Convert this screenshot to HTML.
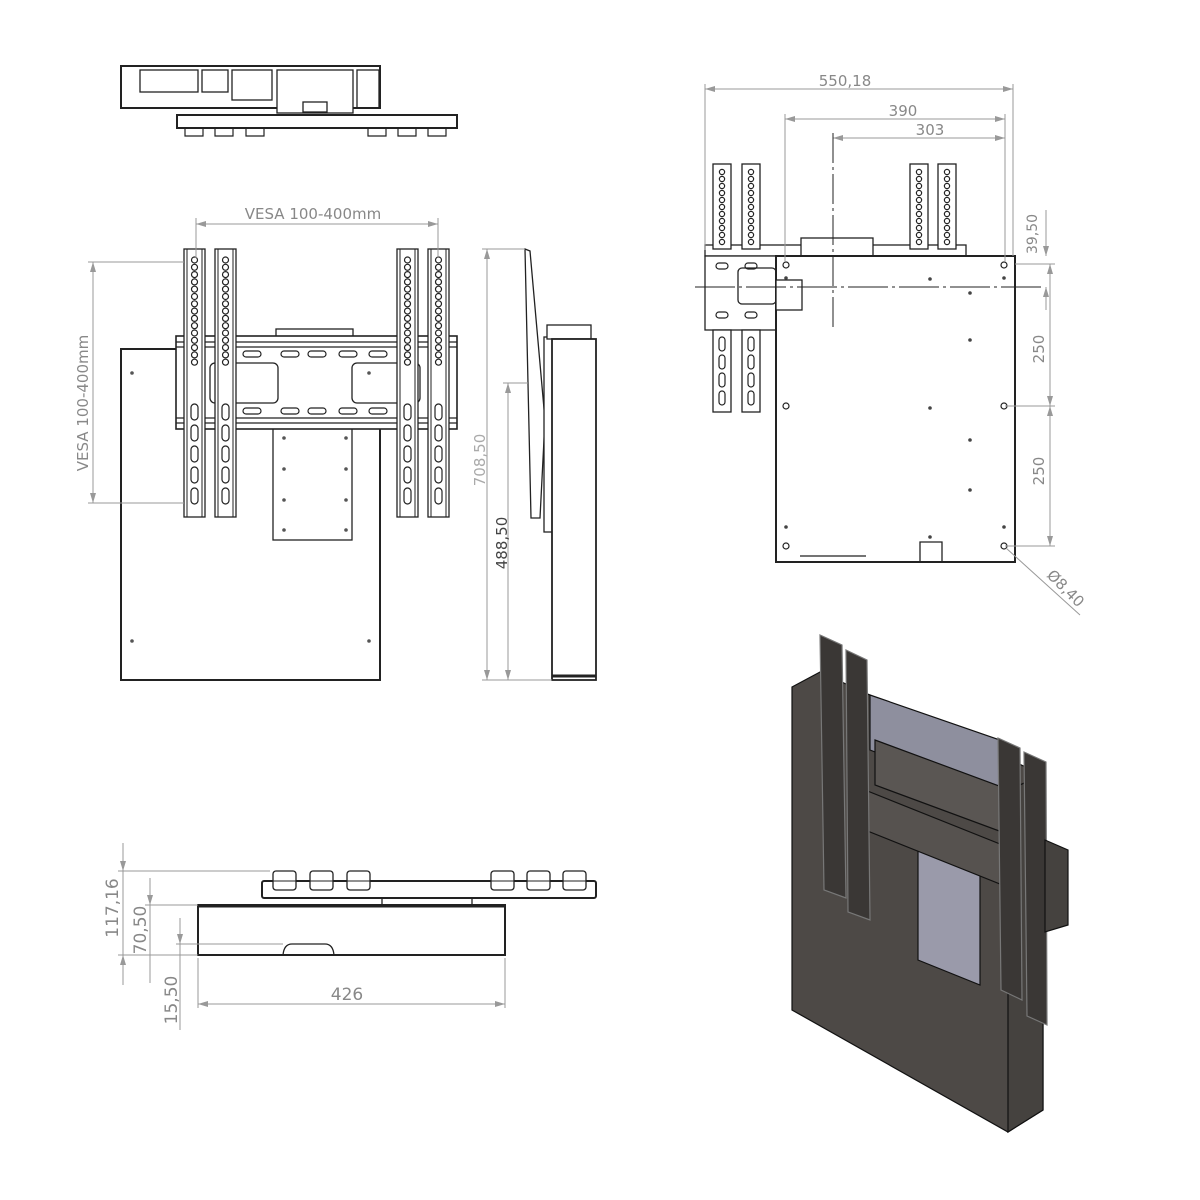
<!DOCTYPE html>
<html><head><meta charset="utf-8"><style>
html,body{margin:0;padding:0;background:#fff;}
svg{display:block;}
text{font-family:"DejaVu Sans","Liberation Sans",sans-serif;}
</style></head><body>
<svg id="s" width="1200" height="1200" viewBox="0 0 1200 1200" xmlns="http://www.w3.org/2000/svg">
<defs>
<marker id="a" viewBox="0 0 10 6" refX="10" refY="3" markerWidth="10" markerHeight="6" orient="auto-start-reverse"><path d="M0,0L10,3L0,6z" fill="#999"/></marker>
</defs>
<g fill="none" stroke="#222" stroke-width="1.3">
<rect x="121" y="66" width="259" height="42" stroke-width="2"/>
<rect x="140" y="70" width="58" height="22"/>
<rect x="202" y="70" width="26" height="22"/>
<rect x="232" y="70" width="40" height="30"/>
<rect x="277" y="70" width="76" height="43" fill="#fff"/>
<rect x="303" y="102" width="24" height="10"/>
<rect x="357" y="70" width="22" height="38"/>
<rect x="177" y="115" width="280" height="13" stroke-width="2"/>
<rect x="121" y="349" width="259" height="331" stroke-width="2"/>
<rect x="273" y="428" width="79" height="112" fill="#fff"/>
<rect x="276" y="329" width="77" height="8" fill="#fff"/>
<rect x="176" y="336" width="281" height="93" fill="#fff" stroke-width="1.6"/>
<line x1="176" y1="342" x2="457" y2="342"/><line x1="176" y1="347" x2="457" y2="347"/>
<line x1="176" y1="418" x2="457" y2="418"/><line x1="176" y1="423" x2="457" y2="423"/>
<rect x="210" y="363" width="68" height="40" rx="5"/>
<rect x="352" y="363" width="68" height="40" rx="5"/>
<path d="M525,249 L530,251 L545,420 L540,518 L531,518 Z" fill="#fff"/>
<rect x="544" y="337" width="10" height="195" fill="#fff"/>
<rect x="547" y="325" width="44" height="14" fill="#fff"/>
<rect x="552" y="339" width="44" height="341" fill="#fff" stroke-width="1.8"/>
<line x1="552" y1="676" x2="596" y2="676" stroke-width="3"/>
<rect x="705" y="245" width="261" height="11" fill="#fff"/>
<rect x="801" y="238" width="72" height="18" fill="#fff"/>
<rect x="705" y="256" width="72" height="74" fill="#fff"/>
<rect x="738" y="268" width="38" height="36" rx="4"/>
<rect x="776" y="256" width="239" height="306" fill="#fff" stroke-width="2"/>
<rect x="776" y="280" width="26" height="30" fill="#fff"/>
<path d="M920,562 V542 H942 V562"/>
<line x1="800" y1="556" x2="866" y2="556"/>
<rect x="262" y="881" width="334" height="17" rx="2" stroke-width="2"/>
<rect x="198" y="905" width="307" height="50" stroke-width="2"/>
<line x1="198" y1="906" x2="505" y2="906" stroke-width="3"/>
<path d="M283,955 Q284,944 292,944 H325 Q333,944 334,955"/>
<rect x="382" y="898" width="90" height="7"/>
</g>
<g id="dyn"></g>
<g stroke="#999" stroke-width="1" fill="none">
<line x1="196" y1="224" x2="438" y2="224" marker-start="url(#a)" marker-end="url(#a)"/>
<line x1="196" y1="218" x2="196" y2="258"/><line x1="438" y1="218" x2="438" y2="258"/>
<line x1="93" y1="262" x2="93" y2="503" marker-start="url(#a)" marker-end="url(#a)"/>
<line x1="88" y1="262" x2="184" y2="262"/><line x1="88" y1="503" x2="184" y2="503"/>
<line x1="487" y1="249" x2="487" y2="680" marker-start="url(#a)" marker-end="url(#a)"/>
<line x1="482" y1="249" x2="525" y2="249"/><line x1="482" y1="680" x2="552" y2="680"/>
<line x1="508" y1="383" x2="508" y2="680" marker-start="url(#a)" marker-end="url(#a)"/>
<line x1="503" y1="383" x2="528" y2="383"/>
<line x1="705" y1="89" x2="1013" y2="89" marker-start="url(#a)" marker-end="url(#a)"/>
<line x1="705" y1="84" x2="705" y2="250"/><line x1="1013" y1="84" x2="1013" y2="256"/>
<line x1="785" y1="119" x2="1005" y2="119" marker-start="url(#a)" marker-end="url(#a)"/>
<line x1="785" y1="114" x2="785" y2="262"/><line x1="1005" y1="114" x2="1005" y2="262"/>
<line x1="833" y1="138" x2="1005" y2="138" marker-start="url(#a)" marker-end="url(#a)"/>
<line x1="833" y1="133" x2="833" y2="330" stroke="#222" stroke-dasharray="30,4,3,4"/>
<line x1="695" y1="287" x2="1042" y2="287" stroke="#222" stroke-dasharray="40,4,3,4"/>
<line x1="1046" y1="210" x2="1046" y2="256"/>
<line x1="1046" y1="287" x2="1046" y2="310" marker-start="url(#a)"/>
<line x1="1046" y1="256" x2="1046" y2="240" marker-start="url(#a)"/>
<line x1="1050" y1="264" x2="1050" y2="406" marker-start="url(#a)" marker-end="url(#a)"/>
<line x1="1050" y1="406" x2="1050" y2="546" marker-start="url(#a)" marker-end="url(#a)"/>
<line x1="1015" y1="264" x2="1055" y2="264"/><line x1="1005" y1="406" x2="1055" y2="406"/><line x1="1005" y1="546" x2="1055" y2="546"/>
<line x1="1006" y1="548" x2="1080" y2="615"/>
<line x1="123" y1="843" x2="123" y2="985"/><line x1="123" y1="850" x2="123" y2="871" marker-end="url(#a)"/><line x1="123" y1="975" x2="123" y2="955" marker-end="url(#a)"/>
<line x1="118" y1="871" x2="270" y2="871"/><line x1="118" y1="955" x2="198" y2="955"/>
<line x1="150" y1="878" x2="150" y2="983"/><line x1="150" y1="885" x2="150" y2="905" marker-end="url(#a)"/><line x1="145" y1="905" x2="198" y2="905"/>
<line x1="180" y1="918" x2="180" y2="1030"/><line x1="180" y1="925" x2="180" y2="944" marker-end="url(#a)"/><line x1="176" y1="944" x2="283" y2="944"/>
<line x1="198" y1="1004" x2="505" y2="1004" marker-start="url(#a)" marker-end="url(#a)"/>
<line x1="198" y1="958" x2="198" y2="1008"/><line x1="505" y1="958" x2="505" y2="1008"/>
</g>
<g fill="#888" font-size="15">
<text x="313" y="219" text-anchor="middle">VESA  100-400mm</text>
<text transform="translate(88,403) rotate(-90)" text-anchor="middle">VESA 100-400mm</text>
<text transform="translate(485,460) rotate(-90)" text-anchor="middle" fill="#aaa">708,50</text>
<text transform="translate(507,543) rotate(-90)" text-anchor="middle" fill="#444">488,50</text>
<text x="845" y="86" text-anchor="middle">550,18</text>
<text x="903" y="116" text-anchor="middle">390</text>
<text x="930" y="135" text-anchor="middle">303</text>
<text transform="translate(1037,234) rotate(-90)" text-anchor="middle" font-size="14">39,50</text>
<text transform="translate(1044,349) rotate(-90)" text-anchor="middle">250</text>
<text transform="translate(1044,471) rotate(-90)" text-anchor="middle">250</text>
<text transform="translate(1062,592) rotate(45)" text-anchor="middle">Ø8,40</text>
<text transform="translate(118,908) rotate(-90)" text-anchor="middle" font-size="17">117,16</text>
<text transform="translate(146,930) rotate(-90)" text-anchor="middle" font-size="17">70,50</text>
<text transform="translate(177,1000) rotate(-90)" text-anchor="middle" font-size="17">15,50</text>
<text x="347" y="1000" text-anchor="middle" font-size="17">426</text>
</g>
<g stroke="#111" stroke-width="1.2">
<polygon points="792,687 820,672 1043,775 1043,1110 1008,1132 792,1010" fill="#4d4946"/>
<polygon points="1008,790 1043,775 1043,1110 1008,1132" fill="#45423f"/>
<polygon points="870,695 1000,740 1000,800 870,750" fill="#8e8f9e"/>
<polygon points="918,840 980,870 980,985 918,960" fill="#9a9aaa"/>
<polygon points="875,740 1010,790 1010,835 875,785" fill="#5a5653"/>
<polygon points="865,790 1015,850 1015,890 865,830" fill="#56524f"/>
<polygon points="820,635 842,645 846,898 824,890" fill="#3a3735" stroke="#777"/>
<polygon points="846,650 867,660 870,920 848,912" fill="#3a3735" stroke="#777"/>
<polygon points="998,738 1020,748 1022,1000 1001,990" fill="#3a3735" stroke="#777"/>
<polygon points="1024,752 1046,762 1047,1025 1027,1016" fill="#3a3735" stroke="#777"/>
<polygon points="1045,840 1068,850 1068,925 1045,932" fill="#45423f"/>
</g>
</svg>
<script>
var g=document.getElementById('dyn'),NS="http://www.w3.org/2000/svg";
function el(t,a){var e=document.createElementNS(NS,t);for(var k in a)e.setAttribute(k,a[k]);g.appendChild(e);return e;}
var S={fill:"#fff",stroke:"#222","stroke-width":1.3};
var Sn={fill:"none",stroke:"#222","stroke-width":1.2};
[184,215,397,428].forEach(function(x){
 el('rect',Object.assign({x:x,y:249,width:21,height:268},S));
 el('line',{x1:x+3,y1:249,x2:x+3,y2:517,stroke:"#222"});el('line',{x1:x+18,y1:249,x2:x+18,y2:517,stroke:"#222"});
 for(var i=0;i<15;i++)el('circle',Object.assign({cx:x+10.5,cy:260+i*7.3,r:3},Sn));
 for(var j=0;j<5;j++)el('rect',Object.assign({x:x+7,y:404+j*21,width:7,height:16,rx:3.5},Sn));
});
[252,290,317,348,378].forEach(function(x){
 el('rect',Object.assign({x:x-9,y:351,width:18,height:6,rx:3},Sn));
 el('rect',Object.assign({x:x-9,y:408,width:18,height:6,rx:3},Sn));
});
[[132,373],[369,373],[132,641],[369,641],[284,438],[346,438],[284,469],[346,469],[284,500],[346,500],[284,530],[346,530]].forEach(function(p){el('circle',{cx:p[0],cy:p[1],r:1.8,fill:"#555"});});
[185,215,246,368,398,428].forEach(function(x){el('path',Object.assign({d:"M"+x+",128 v8 h18 v-8"},Sn));});
[273,310,347,491,527,563].forEach(function(x){el('rect',Object.assign({x:x,y:871,width:23,height:19,rx:3},S));el('line',{x1:x,y1:881,x2:x+23,y2:881,stroke:"#222"});});
[713,742,910,938].forEach(function(x,k){
 el('rect',Object.assign({x:x,y:164,width:18,height:85},S));
 for(var i=0;i<11;i++)el('circle',Object.assign({cx:x+9,cy:172+i*7,r:2.6},Sn));
 if(k<2){el('rect',Object.assign({x:x,y:330,width:18,height:82},S));
  for(var j=0;j<4;j++)el('rect',Object.assign({x:x+6,y:337+j*18,width:6,height:14,rx:3},Sn));
  el('rect',Object.assign({x:x+3,y:263,width:12,height:6,rx:3},Sn));el('rect',Object.assign({x:x+3,y:312,width:12,height:6,rx:3},Sn));}
});
[[786,265],[1004,265],[786,406],[1004,406],[786,546],[1004,546]].forEach(function(p){el('circle',Object.assign({cx:p[0],cy:p[1],r:3},Sn));});
[[786,278],[1004,278],[930,279],[970,293],[970,340],[930,408],[970,440],[970,490],[786,527],[1004,527],[930,537]].forEach(function(p){el('circle',{cx:p[0],cy:p[1],r:1.8,fill:"#444"});});
[[831,650,895],[857,665,915],[1009,755,995],[1036,768,1020]].forEach(function(r){
 for(var i=0;i<14;i++)el('circle',{cx:r[0],cy:r[1]+10+i*7,r:2,fill:"none",stroke:"#aaa","stroke-width":0.8});
 for(var j=0;j<5;j++)el('rect',{x:r[0]-3,y:r[1]+150+j*18,width:6,height:13,rx:3,fill:"#222",stroke:"#777","stroke-width":0.8});
});
[[836,955],[800,975],[998,1090],[1024,1075]].forEach(function(p){el('circle',{cx:p[0],cy:p[1],r:2,fill:"#bbb"});});
</script>
</body></html>
